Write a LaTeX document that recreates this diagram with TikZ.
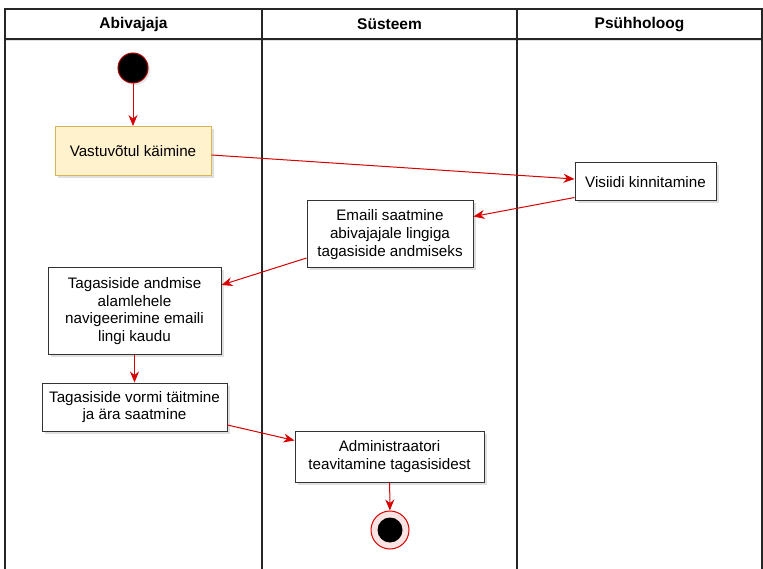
\documentclass[tikz,border=0pt]{standalone}
\usepackage{fontspec}
\setmainfont{Liberation Sans}
\usetikzlibrary{arrows.meta,shadows,calc}
\definecolor{flowred}{HTML}{D80000}
\definecolor{noteyellow}{HTML}{FFF2CC}
\definecolor{noteedge}{HTML}{D6B656}
\definecolor{endpink}{HTML}{FBE3E3}
\begin{document}
\begin{tikzpicture}[x=1pt,y=-1pt,
  lane/.style={line width=1.2pt, draw=black!85},
  head/.style={font=\bfseries\fontsize{15.5}{17}\selectfont},
  act/.style={draw=black!80, fill=white, line width=1pt, align=center,
    font=\fontsize{15.2}{17.6}\selectfont, inner sep=0pt,
    drop shadow={shadow xshift=2.5pt, shadow yshift=-2.5pt, opacity=0.25}},
  flow/.style={draw=flowred, line width=1pt, -{Stealth[length=11pt,width=9pt]}}]
\useasboundingbox (0,0) rectangle (763,569);
\fill[white] (0,0) rectangle (763,569);

% swimlanes
\draw[lane, drop shadow={shadow xshift=0pt, shadow yshift=-2pt, opacity=0.25}, fill=white]
  (5,9) rectangle (762,39);
\draw[lane] (5,9) -- (5,569);
\draw[lane] (262,9) -- (262,569);
\draw[lane] (517,9) -- (517,569);
\draw[lane] (762,9) -- (762,569);
\node[head] (h1) at (133.5,24.5) {Abivajaja};
\node[head] (h2) at (389.5,24.5) {Süsteem};
\node[head] (h3) at (639.5,24.5) {Psühholoog};

% start and end
\node[circle, fill=black, draw=flowred!80!black, line width=1pt, minimum size=30pt, inner sep=0pt,
  drop shadow={shadow xshift=2pt, shadow yshift=-2pt, opacity=0.2}] (start) at (133,68) {};
\node[circle, fill=endpink, draw=flowred, line width=1pt, minimum size=38pt, inner sep=0pt] (endc) at (390,530) {};
\node[circle, fill=black, minimum size=25pt, inner sep=0pt] (endin) at (390,530) {};

% actions
\node[act, fill=noteyellow, draw=noteedge, minimum width=156pt, minimum height=49pt] (vast) at (133,151) {Vastuvõtul käimine};
\node[act, minimum width=141pt, minimum height=38pt] (vis) at (645.5,182) {Visiidi kinnitamine};
\node[act, minimum width=166pt, minimum height=67pt] (email) at (390,234.5) {Emaili saatmine\\abivajajale lingiga\\tagasiside andmiseks};
\node[act, minimum width=173pt, minimum height=86pt] (tagand) at (134.5,311) {Tagasiside andmise\\alamlehele\\navigeerimine emaili\\lingi kaudu};
\node[act, minimum width=185pt, minimum height=48pt] (vorm) at (134.5,407) {Tagasiside vormi täitmine\\ja ära saatmine};
\node[act, minimum width=189pt, minimum height=51pt] (admin) at (389.5,456.5) {Administraatori\\teavitamine tagasisidest};

% control flow
\draw[flow] (start) -- (vast);
\draw[flow] ($(vast.east)+(0,4)$) -- ($(vis.west)+(0,-3)$);
\draw[flow] ($(vis.south west)+(0,-4)$) -- ($(email.east)+(0,-18)$);
\draw[flow] ($(email.west)+(0,23.5)$) -- ($(tagand.east)+(0,-26)$);
\draw[flow] (tagand) -- (vorm);
\draw[flow] ($(vorm.east)+(0,18)$) -- ($(admin.west)+(0,-16)$);
\draw[flow] (admin) -- (endc);
\end{tikzpicture}
\end{document}
